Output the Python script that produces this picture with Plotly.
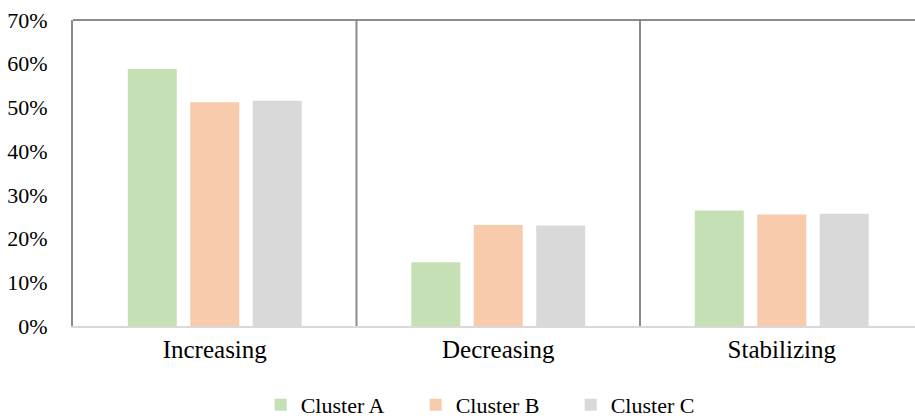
import plotly.graph_objects as go

categories = ["Increasing", "Decreasing", "Stabilizing"]
cluster_a = [0.588, 0.146, 0.264]
cluster_b = [0.512, 0.231, 0.255]
cluster_c = [0.515, 0.230, 0.257]
series_names = ["Cluster A", "Cluster B", "Cluster C"]
colors = ["#c5e0b4", "#f8cbad", "#d9d9d9"]
y_ticks = [0, 0.1, 0.2, 0.3, 0.4, 0.5, 0.6, 0.7]

FONT = "Liberation Serif"

fig = go.Figure()
for name, vals, col in zip(series_names, [cluster_a, cluster_b, cluster_c], colors):
    fig.add_trace(go.Bar(x=categories, y=vals, name=name, marker_color=col,
                         marker_line_width=0))

fig.update_layout(
    width=915, height=419,
    margin=dict(l=73, r=0, t=20, b=93, autoexpand=False),
    paper_bgcolor="white", plot_bgcolor="white",
    barmode="group", bargap=0.339, bargroupgap=0.216,
    font=dict(family=FONT, color="#000000"),
    showlegend=True,
    legend=dict(orientation="h", x=0.539, xanchor="center", xref="container",
                y=-0.258, yanchor="middle", yref="paper",
                font=dict(family=FONT, size=22, color="#000"),
                entrywidth=110, itemwidth=30, traceorder="normal",
                tracegroupgap=0),
)
fig.update_xaxes(showline=True, linecolor="#d9d9d9", linewidth=2,
                 tickfont=dict(family=FONT, size=25), ticks="", showgrid=False,
                 range=[-0.5, 2.47], automargin=False)
fig.update_yaxes(range=[0, 0.7], tickvals=y_ticks, tickformat=".0%",
                 showgrid=False, zeroline=False,
                 showline=True, linecolor="#8c8c8c", linewidth=2,
                 tickfont=dict(family=FONT, size=22), ticks="outside",
                 ticklen=19, tickcolor="rgba(0,0,0,0)", automargin=False)

# top border and category separators
fig.add_shape(type="line", xref="paper", yref="paper", x0=0, x1=1, y0=1, y1=1,
              line=dict(color="#8c8c8c", width=2))
for xs in [0.5, 1.5]:
    fig.add_shape(type="line", xref="x", yref="paper", x0=xs, x1=xs, y0=0, y1=1,
                  line=dict(color="#8c8c8c", width=2))

fig.write_html("out.html", config={"displayModeBar": False},
               post_script="document.body.style.margin='0';document.body.style.overflow='hidden';")
